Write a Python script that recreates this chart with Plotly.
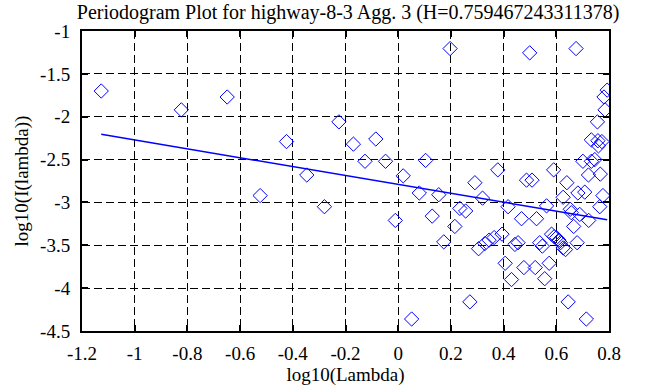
import plotly.graph_objects as go
import numpy as np

# Periodogram points: log10(Lambda) vs log10(I(lambda))
log_lambda = [
    -1.127, -0.823, -0.649, -0.524, -0.424, -0.347, -0.280, -0.225, -0.170, -0.126,
    -0.085, -0.048, -0.011, 0.019, 0.051, 0.080, 0.104, 0.129, 0.154, 0.173,
    0.197, 0.215, 0.234, 0.256, 0.272, 0.291, 0.305, 0.320, 0.329, 0.345,
    0.364, 0.378, 0.394, 0.406, 0.417, 0.430, 0.443, 0.455, 0.468, 0.477,
    0.487, 0.499, 0.508, 0.520, 0.525, 0.537, 0.547, 0.556, 0.563, 0.573,
    0.582, 0.590, 0.592, 0.601, 0.610, 0.616, 0.626, 0.626, 0.635, 0.640,
    0.645, 0.653, 0.657, 0.666, 0.675, 0.679, 0.682, 0.689, 0.701, 0.708,
    0.714, 0.722, 0.723, 0.733, 0.733, 0.746, 0.756, 0.758, 0.760, 0.765,
    0.767, 0.773, 0.777, 0.781, 0.785, 0.793,
]
log_periodogram = [
    -1.70, -1.92, -1.77, -2.92, -2.29, -2.68, -3.05, -2.06, -2.32, -2.52,
    -2.26, -2.52, -3.21, -2.69, -4.36, -2.89, -2.51, -3.16, -2.91, -3.46,
    -1.205, -3.28, -3.07, -3.10, -4.16, -2.77, -3.54, -2.95, -3.48, -3.44,
    -3.41, -2.62, -3.37, -3.71, -3.05, -3.90, -3.49, -3.47, -3.19, -3.76,
    -2.74, -1.255, -2.74, -3.76, -3.19, -3.47, -3.51, -3.89, -3.04, -3.71,
    -3.37, -2.62, -3.40, -3.41, -3.44, -3.47, -2.94, -3.53, -3.55, -2.77,
    -4.16, -3.08, -3.12, -3.28, -1.205, -3.47, -2.89, -3.14, -2.52, -2.88,
    -4.36, -2.68, -3.21, -2.52, -2.27, -2.50, -2.06, -2.28, -2.34, -3.05,
    -2.67, -2.29, -2.92, -1.77, -1.92, -1.69,
]

# Least-squares fit line parameters (slope = 1 - 2H)
H = 0.759467243311378
fit_slope = 1 - 2 * H
fit_intercept = -2.790

x_ticks = [-1.2, -1.0, -0.8, -0.6, -0.4, -0.2, 0.0, 0.2, 0.4, 0.6, 0.8]
x_tick_labels = ["-1.2", "-1", "-0.8", "-0.6", "-0.4", "-0.2", "0", "0.2", "0.4", "0.6", "0.8"]
y_ticks = [-1.0, -1.5, -2.0, -2.5, -3.0, -3.5, -4.0, -4.5]
y_tick_labels = ["-1", "-1.5", "-2", "-2.5", "-3", "-3.5", "-4", "-4.5"]

title_text = "Periodogram Plot for highway-8-3 Agg. 3 (H=0.759467243311378)"
x_title = "log10(Lambda)"
y_title = "log10(I(lambda))"

fit_x = np.array([min(log_lambda), max(log_lambda)])
fit_y = fit_intercept + fit_slope * fit_x

font_family = "Liberation Serif, Times New Roman, serif"
fs = 19

fig = go.Figure()
fig.add_trace(go.Scatter(
    x=log_lambda, y=log_periodogram, mode="markers",
    marker=dict(symbol="diamond-open", size=11, color="#0000ff",
                line=dict(width=1, color="#0000ff")),
    showlegend=False,
))
fig.add_trace(go.Scatter(
    x=fit_x, y=fit_y, mode="lines",
    line=dict(color="#0000ff", width=1.5),
    showlegend=False,
))

axis_common = dict(
    showgrid=True, gridcolor="black", gridwidth=1, griddash="8px,4px",
    zeroline=False, showline=True, linecolor="black", linewidth=2,
    mirror="ticks", ticks="inside", ticklen=6, tickwidth=2, tickcolor="black",
    tickfont=dict(family=font_family, size=fs, color="black"),
    automargin=False,
)

fig.update_layout(
    width=658, height=387,
    margin=dict(l=82, r=49, t=31, b=56),
    paper_bgcolor="white", plot_bgcolor="white",
    font=dict(family=font_family, size=fs, color="black"),
    title=dict(text=title_text, x=0.505, xref="paper", xanchor="center",
               y=1 - 12 / 387, yref="container", yanchor="middle",
               font=dict(family=font_family, size=20, color="black")),
    xaxis=dict(range=[-1.2, 0.8], tickvals=x_ticks, ticktext=x_tick_labels,
               title=dict(text=x_title, standoff=2,
                          font=dict(family=font_family, size=fs)),
               ticklabelstandoff=4, **axis_common),
    yaxis=dict(range=[-4.5, -1.0], tickvals=y_ticks, ticktext=y_tick_labels,
               title=dict(text=y_title, standoff=6,
                          font=dict(family=font_family, size=fs)),
               ticklabelstandoff=6, **axis_common),
)

fig.write_html("out.html", config={"displayModeBar": False},
               post_script="document.body.style.margin='0';")
